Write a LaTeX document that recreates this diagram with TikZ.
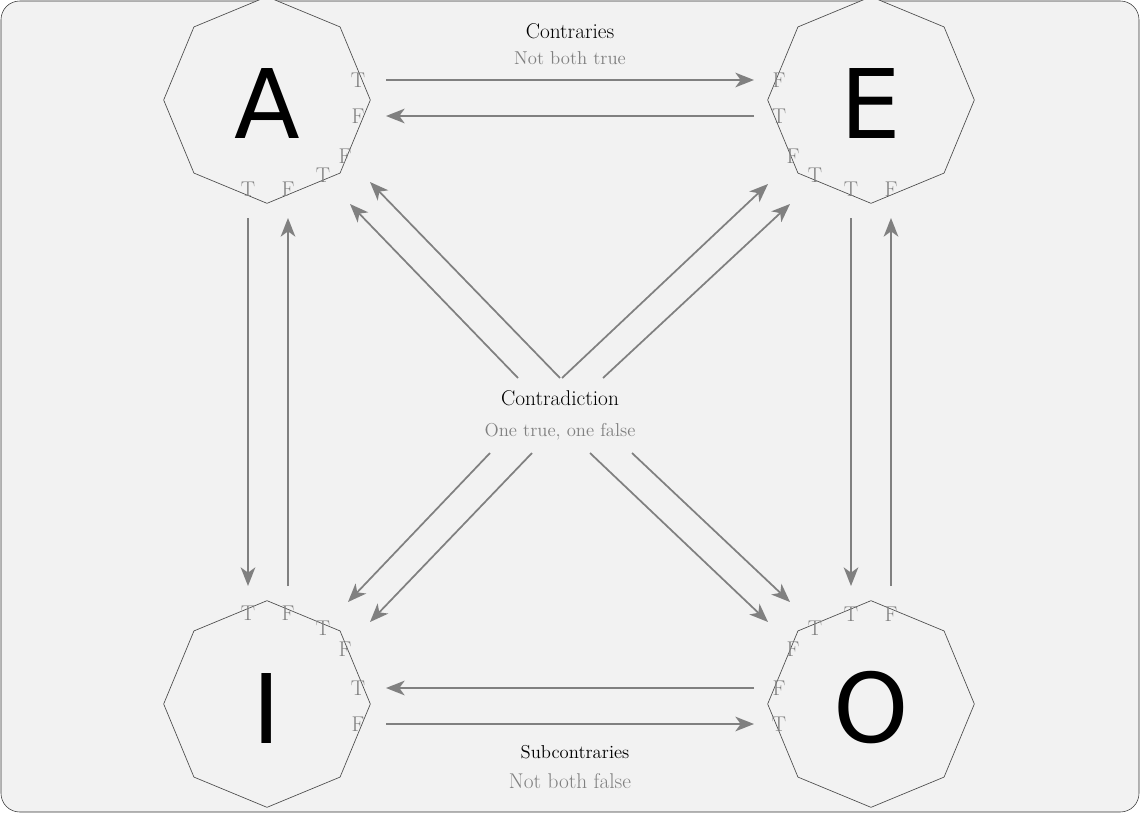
\documentclass[tikz,border=0pt]{standalone}
\usepackage{fontspec}
\newfontfamily\bigsans{DejaVu Sans}
\usetikzlibrary{shapes.geometric,arrows.meta}
\begin{document}
\begin{tikzpicture}[x=0.75pt,y=-0.75pt,
  arr/.style={draw=gray,line width=1.3pt,-{Stealth[length=14pt,width=11pt,inset=4pt]}},
  tf/.style={text=gray,font=\fontsize{16}{16}\selectfont,inner sep=0pt},
  oct/.style={regular polygon,regular polygon sides=8,shape border rotate=22.5,minimum size=155,draw=black!70,line width=0.5pt,fill=black!5,inner sep=0pt},
  big/.style={font=\bigsans\fontsize{72}{72}\selectfont},
  ttl/.style={font=\fontsize{16}{16}\selectfont,inner sep=0pt},
  sub/.style={text=gray,font=\fontsize{14}{14}\selectfont,inner sep=0pt}]
\useasboundingbox (0,0) rectangle (1143,814);
\draw[fill=black!5,draw=black!80,rounded corners=14] (1,1) rectangle (1139,812);
\node[oct] (A) at (267,100) {}; \node[big] at (267,104) {A};
\node[oct] (E) at (871,100) {}; \node[big] at (871,104) {E};
\node[oct] (I) at (267,704) {}; \node[big] at (267,708) {I};
\node[oct] (O) at (871,704) {}; \node[big] at (871,708) {O};
% labels
\node[tf] (a1) at (358,80) {T}; \node[tf] (a2) at (358,116) {F};
\node[tf] (a3) at (248,189) {T}; \node[tf] (a4) at (288,189) {F};
\node[tf] (a5) at (323,175) {T}; \node[tf] (a6) at (345,156) {F};
\node[tf] (e1) at (779,80) {F}; \node[tf] (e2) at (779,116) {T};
\node[tf] (e3) at (851,189) {T}; \node[tf] (e4) at (891,189) {F};
\node[tf] (e5) at (815,175) {T}; \node[tf] (e6) at (793,156) {F};
\node[tf] (i1) at (358,688) {T}; \node[tf] (i2) at (358,724) {F};
\node[tf] (i3) at (248,613) {T}; \node[tf] (i4) at (288,613) {F};
\node[tf] (i5) at (323,628) {T}; \node[tf] (i6) at (345,649) {F};
\node[tf] (o1) at (779,688) {F}; \node[tf] (o2) at (779,724) {T};
\node[tf] (o3) at (851,614) {T}; \node[tf] (o4) at (891,614) {F};
\node[tf] (o5) at (815,628) {T}; \node[tf] (o6) at (793,649) {F};
\node[ttl] (c) at (570,31) {Contraries};
\node[sub] (cs) at (570,58) {Not both true};
\node[ttl] (cd) at (560,398) {Contradiction};
\node[sub] (cds) at (560,432) {One true, one false};
\node[ttl,font=\fontsize{14}{14}\selectfont] (sc) at (575,752) {Subcontraries};
\node[sub,font=\fontsize{16}{16}\selectfont] (scs) at (570,781) {Not both false};
% coordinates
\foreach \n/\x/\y in {p1/386/80,p2/754/80,p3/754/116,p4/386/116,
 q1/248/218,q2/248/586,q3/288/586,q4/288/218,
 r1/851/218,r2/851/586,r3/891/586,r4/891/218,
 s1/754/688,s2/386/688,s3/386/724,s4/754/724,
 d1/560/378,d2/370/182,d3/518/378,d4/350/204,
 d5/562/378,d6/768/184,d7/603/378,d8/790/204,
 d9/490/453,d10/348/602,d11/532/453,d12/370/622,
 d13/590/453,d14/768/622,d15/632/453,d16/790/602}
 \coordinate (\n) at (\x,\y);
\draw[arr] (p1)--(p2); \draw[arr] (p3)--(p4);
\draw[arr] (q1)--(q2); \draw[arr] (q3)--(q4);
\draw[arr] (r1)--(r2); \draw[arr] (r3)--(r4);
\draw[arr] (s1)--(s2); \draw[arr] (s3)--(s4);
\draw[arr] (d1)--(d2); \draw[arr] (d3)--(d4);
\draw[arr] (d5)--(d6); \draw[arr] (d7)--(d8);
\draw[arr] (d9)--(d10); \draw[arr] (d11)--(d12);
\draw[arr] (d13)--(d14); \draw[arr] (d15)--(d16);
\end{tikzpicture}
\end{document}
